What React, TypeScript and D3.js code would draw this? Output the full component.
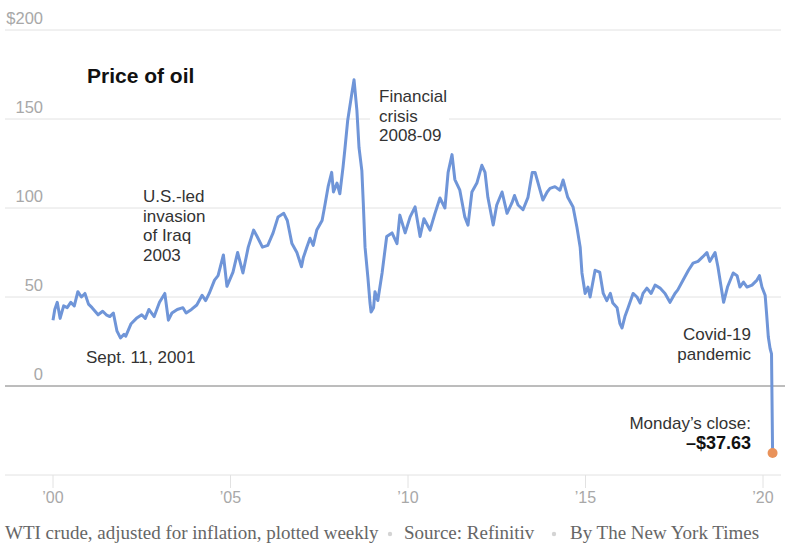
import * as d3 from "d3";
import { useEffect, useRef } from "react";

// WTI crude, inflation-adjusted, sampled through each year (decimal year)
const years2000s = [
  2000.0, 2000.05, 2000.12, 2000.2, 2000.3, 2000.4, 2000.5, 2000.6, 2000.7, 2000.8,
  2000.9, 2001.0, 2001.1, 2001.27, 2001.4, 2001.5, 2001.6, 2001.7, 2001.8, 2001.9,
  2002.0, 2002.05, 2002.2, 2002.35, 2002.5, 2002.6, 2002.7, 2002.85, 2003.0, 2003.15,
  2003.25, 2003.35, 2003.5, 2003.66, 2003.75, 2003.9, 2004.05, 2004.2, 2004.3, 2004.4,
  2004.55, 2004.65, 2004.8, 2004.9, 2005.07, 2005.2, 2005.35, 2005.5, 2005.65, 2005.75,
  2005.9, 2006.05, 2006.2, 2006.34, 2006.5, 2006.6, 2006.73, 2006.87, 2007.0, 2007.05,
  2007.15, 2007.24, 2007.33, 2007.43, 2007.58, 2007.66, 2007.75, 2007.85, 2007.9, 2008.0,
  2008.08, 2008.17, 2008.22, 2008.3, 2008.42, 2008.48, 2008.56, 2008.62, 2008.7, 2008.74,
  2008.79, 2008.87, 2008.93, 2008.96, 2009.03, 2009.07, 2009.15, 2009.27, 2009.4, 2009.55,
  2009.69, 2009.77, 2009.92,
];
const prices2000s = [
  37, 43, 47, 38, 45, 44, 47, 45, 53, 50,
  52, 46, 44, 40, 42, 40, 39, 41, 31, 27,
  29, 28, 35, 38, 40, 38, 43, 39, 47, 52,
  37, 41, 43, 44, 41, 43, 45.5, 51, 48, 52,
  59.5, 62, 73.6, 56, 64, 75, 63.5, 78, 87.6, 84,
  78, 79, 86, 95, 97, 93, 80, 75, 67, 72,
  78, 83, 79, 87.6, 93, 101.7, 112, 120, 109, 114,
  108, 123, 132.6, 149, 164.6, 172, 155, 134, 121, 103,
  78, 61, 46.6, 41.6, 44, 53, 48, 63.5, 84, 86,
  80, 96, 86,
];

const years2010s = [
  2010.06, 2010.2, 2010.34, 2010.45, 2010.62, 2010.76, 2010.9, 2011.04, 2011.13, 2011.24,
  2011.32, 2011.46, 2011.6, 2011.69, 2011.8, 2011.94, 2012.08, 2012.17, 2012.25, 2012.4,
  2012.5, 2012.65, 2012.79, 2012.93, 2013.0, 2013.1, 2013.24, 2013.38, 2013.5, 2013.58,
  2013.72, 2013.8, 2013.92, 2014.0, 2014.14, 2014.28, 2014.37, 2014.5, 2014.65, 2014.76,
  2014.85, 2014.9, 2014.99, 2015.07, 2015.13, 2015.27, 2015.4, 2015.5, 2015.6, 2015.7,
  2015.77, 2015.89, 2015.97, 2016.03, 2016.11, 2016.2, 2016.34, 2016.45, 2016.54, 2016.62,
  2016.73, 2016.85, 2016.96, 2017.1, 2017.24, 2017.38, 2017.52, 2017.6, 2017.75, 2017.9,
  2018.03, 2018.17, 2018.3, 2018.42, 2018.5, 2018.65, 2018.73, 2018.85, 2018.89, 2019.0,
  2019.16, 2019.27, 2019.35, 2019.45, 2019.55, 2019.69, 2019.83, 2019.9, 2019.97,
];
const prices2010s = [
  95, 100.6, 84, 94, 87.6, 97, 105.6, 100, 120, 130,
  116, 110, 95, 90.4, 109, 114, 124, 120, 106, 90.4,
  101.7, 109, 97, 103, 107, 101.7, 99, 106, 120, 120,
  110, 104.5, 109, 111, 112, 110, 115.7, 106, 100.6, 89,
  78, 63.5, 52, 55.6, 50, 65, 64, 52, 48, 52,
  46.6, 44, 35, 32.6, 39, 44, 52, 50, 46.6, 52,
  55, 52, 56.7, 55, 52, 47, 52, 54, 59.5, 65,
  69, 70, 72.5, 75, 70, 75, 67, 52, 47, 55.6,
  63.5, 62, 55.6, 58.4, 55.6, 56.7, 59.5, 62, 55.6,
];

// 2020 through Monday's close
const years2020 = [2020.06, 2020.1, 2020.15, 2020.2, 2020.24, 2020.27];
const prices2020 = [51, 41, 27.5, 21, 18, -37.63];

const yTicks = [200, 150, 100, 50, 0];
const xTicks = [2000, 2005, 2010, 2015, 2020];

const title = "Price of oil";
const footerParts = [
  "WTI crude, adjusted for inflation, plotted weekly",
  "Source: Refinitiv",
  "By The New York Times",
];

const sans = "'Liberation Sans', Arial, sans-serif";
const serif = "'Liberation Serif', 'DejaVu Serif', serif";

const App: React.FC = () => {
  const ref = useRef<HTMLDivElement | null>(null);

  useEffect(() => {
    const width = 792;
    const height = 556;

    const data = [
      ...years2000s.map((t, i) => ({ t, v: prices2000s[i] })),
      ...years2010s.map((t, i) => ({ t, v: prices2010s[i] })),
      ...years2020.map((t, i) => ({ t, v: prices2020[i] })),
    ];
    const last = data[data.length - 1];

    d3.select(ref.current).selectAll("*").remove();

    const svg = d3
      .select(ref.current)
      .append("svg")
      .attr("width", width)
      .attr("height", height)
      .style("display", "block");

    svg.append("rect").attr("width", width).attr("height", height).attr("fill", "#fff");

    const x = d3.scaleLinear().domain([2000, 2020]).range([53, 763]);
    const y = d3.scaleLinear().domain([-50, 200]).range([475, 30]);

    // horizontal gridlines and labels
    svg
      .selectAll(".grid")
      .data(yTicks.filter((d) => d !== 0))
      .enter()
      .append("line")
      .attr("x1", 5)
      .attr("x2", 781)
      .attr("y1", (d) => y(d))
      .attr("y2", (d) => y(d))
      .attr("stroke", "#e2e2e2")
      .attr("stroke-width", 1);

    svg
      .selectAll(".ylabel")
      .data(yTicks)
      .enter()
      .append("text")
      .attr("x", 43)
      .attr("y", (d) => y(d) - 6)
      .attr("text-anchor", "end")
      .attr("font-family", sans)
      .attr("font-size", 16.5)
      .attr("fill", "#a8a8a8")
      .text((d) => (d === 200 ? "$200" : String(d)));

    // bottom axis at -50
    svg
      .append("line")
      .attr("x1", 5)
      .attr("x2", 781)
      .attr("y1", y(-50))
      .attr("y2", y(-50))
      .attr("stroke", "#e2e2e2");

    svg
      .selectAll(".xtick")
      .data(xTicks)
      .enter()
      .append("line")
      .attr("x1", (d) => x(d))
      .attr("x2", (d) => x(d))
      .attr("y1", y(-50))
      .attr("y2", y(-50) + 13)
      .attr("stroke", "#e2e2e2");

    svg
      .selectAll(".xlabel")
      .data(xTicks)
      .enter()
      .append("text")
      .attr("x", (d) => x(d))
      .attr("y", y(-50) + 28)
      .attr("text-anchor", "middle")
      .attr("font-family", sans)
      .attr("font-size", 16)
      .attr("fill", "#a8a8a8")
      .text((d) => "\u2019" + String(d).slice(2));

    // white backing behind the financial crisis note
    svg
      .append("rect")
      .attr("x", 370)
      .attr("y", 84)
      .attr("width", 79)
      .attr("height", 62)
      .attr("fill", "#fff");

    // zero line
    svg
      .append("line")
      .attr("x1", 5)
      .attr("x2", 785)
      .attr("y1", y(0))
      .attr("y2", y(0))
      .attr("stroke", "#7a7a7a")
      .attr("stroke-width", 1);

    const line = d3
      .line<{ t: number; v: number }>()
      .x((d) => x(d.t))
      .y((d) => y(d.v))
      .curve(d3.curveLinear);

    svg
      .append("path")
      .datum(data)
      .attr("d", line)
      .attr("fill", "none")
      .attr("stroke", "#6f95d8")
      .attr("stroke-width", 3)
      .attr("stroke-linejoin", "round");

    svg
      .append("circle")
      .attr("cx", x(last.t))
      .attr("cy", y(last.v))
      .attr("r", 5)
      .attr("fill", "#e9925a");

    svg
      .append("text")
      .attr("x", 87)
      .attr("y", 83)
      .attr("font-family", sans)
      .attr("font-weight", "bold")
      .attr("font-size", 21)
      .attr("fill", "#111")
      .text(title);

    const note = (lines: string[], xPos: number, yPos: number, anchor: string) => {
      const t = svg
        .append("text")
        .attr("font-family", sans)
        .attr("font-size", 17)
        .attr("fill", "#333")
        .attr("text-anchor", anchor);
      lines.forEach((s, i) => {
        t.append("tspan").attr("x", xPos).attr("y", yPos + i * 19.5).text(s);
      });
    };

    note(["U.S.-led", "invasion", "of Iraq", "2003"], 143, 202, "start");
    note(["Financial", "crisis", "2008-09"], 379, 102, "start");
    note(["Sept. 11, 2001"], 86, 363, "start");
    note(["Covid-19", "pandemic"], 751, 340, "end");
    note(["Monday\u2019s close:"], 751, 429, "end");

    svg
      .append("text")
      .attr("x", 751)
      .attr("y", 449)
      .attr("text-anchor", "end")
      .attr("font-family", sans)
      .attr("font-weight", "bold")
      .attr("font-size", 18)
      .attr("fill", "#111")
      .text("\u2013$" + Math.abs(last.v).toFixed(2));

    // footer credits
    const footX = [5, 404, 570];
    svg
      .selectAll(".foot")
      .data(footerParts)
      .enter()
      .append("text")
      .attr("x", (_, i) => footX[i])
      .attr("y", 539)
      .attr("font-family", serif)
      .attr("font-size", 19)
      .attr("fill", "#666")
      .text((d) => d);

    svg
      .selectAll(".dot")
      .data([390, 554])
      .enter()
      .append("circle")
      .attr("cx", (d) => d)
      .attr("cy", 534)
      .attr("r", 2.2)
      .attr("fill", "#d4d4d4");
  }, []);

  return <div ref={ref} style={{ position: "absolute", left: 0, top: 0 }}></div>;
};

export default App;
